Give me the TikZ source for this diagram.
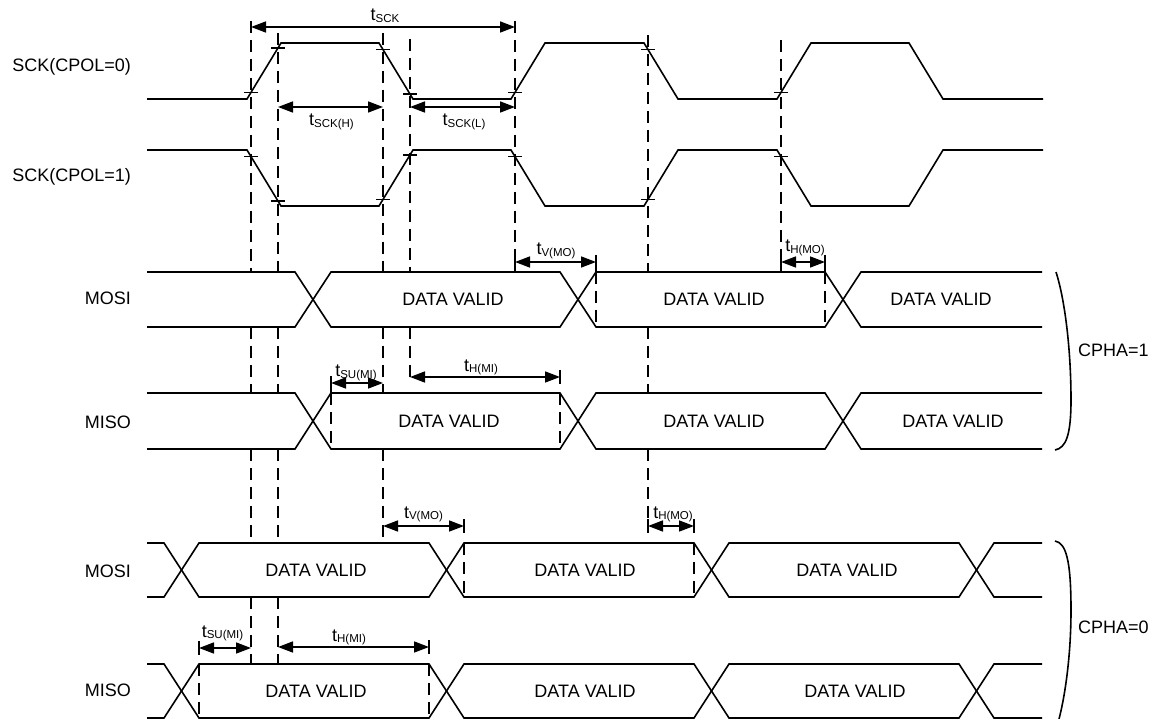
\documentclass[tikz,border=0pt]{standalone}
\usepackage{fontspec}
\setmainfont{Liberation Sans}
\usetikzlibrary{arrows.meta}
\def\gapdash[#1](#2)(#3:#4){\draw[#1] (#2,#3) -- (#2,#4);}
\def\sckmark(#1,#2){\draw[line width=1.3pt] (#1-7,#2) -- (#1+7,#2);}
\def\tsub#1{t\raisebox{-1.5pt}{\fontsize{11.5}{12}\selectfont #1}}
\tikzset{
	wave/.style={line width=1.6pt},
	guide/.style={line width=1.6pt, dash pattern=on 12pt off 7pt},
	dim/.style={line width=1.6pt, {Triangle[length=15pt,width=11pt]}-{Triangle[length=15pt,width=11pt]}},
	endbar/.style={line width=1.4pt},
	lab/.style={font=\fontsize{18}{21}\selectfont, inner sep=0pt},
}
\begin{document}
\begin{tikzpicture}[x=1pt, y=-1pt]
			%%%%% START %%%%%
			\useasboundingbox (0,0) rectangle (1157,719);
			
			% signal names
			\node[lab, anchor=base east] (nSCK0) at (131, 71.5) {SCK(CPOL=0)};
			\node[lab, anchor=base east] (nSCK1) at (131, 181.5) {SCK(CPOL=1)};
			\node[lab, anchor=base east] (nMOSI1) at (131, 305) {MOSI};
			\node[lab, anchor=base east] (nMISO1) at (131, 428) {MISO};
			\node[lab, anchor=base east] (nMOSI0) at (131, 577) {MOSI};
			\node[lab, anchor=base east] (nMISO0) at (131, 696) {MISO};
			
			% clocks
			\draw[wave] (147,99) -- (247,99) -- (281,43) -- (379,43) -- (413,99) -- (511,99) -- (545,43) -- (644,43) -- (678,99) -- (777,99) -- (811,43) -- (909,43) -- (943,99) -- (1043,99);
			\draw[wave] (147,150) -- (247,150) -- (281,206) -- (379,206) -- (413,150) -- (511,150) -- (545,206) -- (644,206) -- (678,150) -- (777,150) -- (811,206) -- (909,206) -- (943,150) -- (1043,150);
			
			\sckmark(251,92.4) \sckmark(278,47.9) \sckmark(383,49.6) \sckmark(410,94.1)
			\sckmark(515,92.4) \sckmark(648,49.6) \sckmark(781,92.4)
			\sckmark(251,156.6) \sckmark(278,201.1) \sckmark(383,199.4) \sckmark(410,154.9)
			\sckmark(515,156.6) \sckmark(648,199.4) \sckmark(781,156.6)
			
			% CPHA=1 data
			\draw[wave] (147,272) -- (295,272) -- (331,327) -- (560,327) -- (596,272) -- (825,272) -- (861,327) -- (1042,327);
			\draw[wave] (147,327) -- (295,327) -- (331,272) -- (560,272) -- (596,327) -- (825,327) -- (861,272) -- (1042,272);
			\draw[wave] (147,393) -- (295,393) -- (331,449) -- (560,449) -- (596,393) -- (825,393) -- (861,449) -- (1042,449);
			\draw[wave] (147,449) -- (295,449) -- (331,393) -- (560,393) -- (596,449) -- (825,449) -- (861,393) -- (1042,393);
			
			% CPHA=0 data
			\draw[wave] (147,543) -- (164,543) -- (199,597) -- (429,597) -- (464,543) -- (694,543) -- (729,597) -- (959,597) -- (994,543) -- (1042,543);
			\draw[wave] (147,597) -- (164,597) -- (199,543) -- (429,543) -- (464,597) -- (694,597) -- (729,543) -- (959,543) -- (994,597) -- (1042,597);
			\draw[wave] (147,664) -- (164,664) -- (199,718) -- (429,718) -- (464,664) -- (694,664) -- (729,718) -- (959,718) -- (994,664) -- (1042,664);
			\draw[wave] (147,718) -- (164,718) -- (199,664) -- (429,664) -- (464,718) -- (694,718) -- (729,664) -- (959,664) -- (994,718) -- (1042,718);
			
			\node[lab] (dvA1) at (453, 299.5) {DATA VALID};
			\node[lab] (dvA2) at (714, 299.5) {DATA VALID};
			\node[lab] (dvA3) at (941, 299.5) {DATA VALID};
			\node[lab] (dvB1) at (449, 421) {DATA VALID};
			\node[lab] (dvB2) at (714, 421) {DATA VALID};
			\node[lab] (dvB3) at (953, 421) {DATA VALID};
			\node[lab] (dvC1) at (316, 570) {DATA VALID};
			\node[lab] (dvC2) at (585, 570) {DATA VALID};
			\node[lab] (dvC3) at (847, 570) {DATA VALID};
			\node[lab] (dvD1) at (316, 691) {DATA VALID};
			\node[lab] (dvD2) at (585, 691) {DATA VALID};
			\node[lab] (dvD3) at (855, 691) {DATA VALID};
			
			% guide lines
			\gapdash[guide](251)(21:272) \gapdash[guide](251)(327:393) \gapdash[guide](251)(449:543) \gapdash[guide](251)(597:664)
			\gapdash[guide](278)(33:272) \gapdash[guide](278)(327:393) \gapdash[guide](278)(449:543) \gapdash[guide](278)(597:664)
			\gapdash[guide](383)(33:272) \gapdash[guide](383)(327:393) \gapdash[guide](383)(449:543)
			\gapdash[guide](410)(39:272) \gapdash[guide](410)(327:377)
			\gapdash[guide](515)(21:262)
			\gapdash[guide](648)(35:272) \gapdash[guide](648)(327:393) \gapdash[guide](648)(449:519)
			\gapdash[guide](781)(40:255)
			
			\gapdash[guide](596)(272:327) \gapdash[guide](825)(272:327)
			\gapdash[guide](331)(393:449) \gapdash[guide](560)(393:449)
			\gapdash[guide](464)(543:597) \gapdash[guide](694)(543:597)
			\gapdash[guide](199)(664:718) \gapdash[guide](429)(664:718)
			
			% end bars
			\gapdash[endbar](515)(255:272) \gapdash[endbar](596)(255:272)
			\gapdash[endbar](781)(255:272) \gapdash[endbar](825)(255:272)
			\gapdash[endbar](331)(376:393) \gapdash[endbar](560)(370:384)
			\gapdash[endbar](464)(519:533)
			\gapdash[endbar](648)(519:533) \gapdash[endbar](694)(519:533)
			\gapdash[endbar](199)(641:655) \gapdash[endbar](429)(640:654)
			
			% timing arrows
			\draw[dim] (251,27) -- (515,27);
			\node[lab, anchor=base] (tSCK) at (385,21) {\tsub{SCK}};
			\draw[dim] (278,107) -- (383,107);
			\node[lab, anchor=base] (tSCKH) at (331.5,126) {\tsub{SCK(H)}};
			\draw[dim] (410,107) -- (515,107);
			\node[lab, anchor=base] (tSCKL) at (464,126) {\tsub{SCK(L)}};
			
			\draw[dim] (515,262) -- (596,262);
			\node[lab, anchor=base] (tVMOa) at (556,255) {\tsub{V(MO)}};
			\draw[dim] (781,262) -- (825,262);
			\node[lab, anchor=base] (tHMOa) at (805,252) {\tsub{H(MO)}};
			\draw[dim] (331,383) -- (383,383);
			\node[lab, anchor=base] (tSUMIa) at (356,377) {\tsub{SU(MI)}};
			\draw[dim] (410,377) -- (560,377);
			\node[lab, anchor=base] (tHMIa) at (481,371) {\tsub{H(MI)}};
			
			\draw[dim] (383,526) -- (464,526);
			\node[lab, anchor=base] (tVMOb) at (423.5,518) {\tsub{V(MO)}};
			\draw[dim] (648,526) -- (694,526);
			\node[lab, anchor=base] (tHMOb) at (673,518) {\tsub{H(MO)}};
			\draw[dim] (199,648) -- (251,648);
			\node[lab, anchor=base] (tSUMIb) at (222.5,637) {\tsub{SU(MI)}};
			\draw[dim] (278,647) -- (429,647);
			\node[lab, anchor=base] (tHMIb) at (349,641) {\tsub{H(MI)}};
			
			% phase brackets
			\draw[wave] (1056,272) .. controls (1065,300) and (1071,350) .. (1071,400) .. controls (1071,435) and (1066,448) .. (1055,450);
			\node[lab, anchor=base west] (cpha1) at (1078,356) {CPHA=1};
			\draw[wave] (1055,541) .. controls (1066,543) and (1071,560) .. (1071,610) .. controls (1071,660) and (1064,700) .. (1059,719);
			\node[lab, anchor=base west] (cpha0) at (1078,633) {CPHA=0};
			
			%%%%% END %%%%%
\end{tikzpicture}
\end{document}
